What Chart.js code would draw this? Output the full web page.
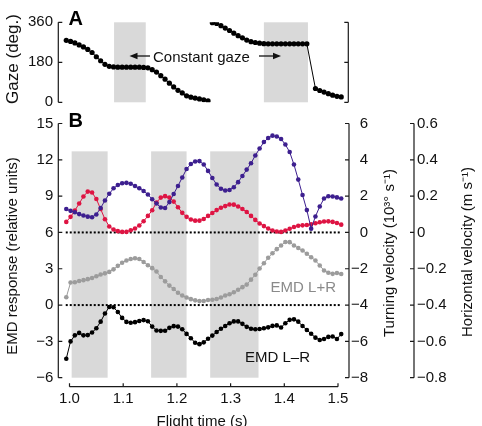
<!DOCTYPE html>
<html>
<head>
<meta charset="utf-8">
<script src="https://cdn.jsdelivr.net/npm/chart.js"></script>
<style>
  body { margin: 0; background: #fff; }
  #wrap { position: relative; width: 482px; height: 426px; }
  canvas { position: absolute; left: 0; top: 0; }
</style>
</head>
<body>
<div id="wrap">
  <canvas id="panelB" width="482" height="426"></canvas>
  <canvas id="panelA" width="482" height="426"></canvas>
</div>
<script>
// sample times (s), one dot every 8 ms
const flightTime = [0.994, 1.002, 1.010, 1.018, 1.026, 1.034, 1.042, 1.050, 1.058, 1.066,
  1.074, 1.082, 1.090, 1.098, 1.106, 1.114, 1.122, 1.130, 1.138, 1.146,
  1.154, 1.162, 1.170, 1.178, 1.186, 1.194, 1.202, 1.210, 1.218, 1.226,
  1.234, 1.242, 1.250, 1.258, 1.266, 1.274, 1.282, 1.290, 1.298, 1.306,
  1.314, 1.322, 1.330, 1.338, 1.346, 1.354, 1.362, 1.370, 1.378, 1.386,
  1.394, 1.402, 1.410, 1.418, 1.426, 1.434, 1.442, 1.450, 1.458, 1.466,
  1.474, 1.482, 1.490, 1.498, 1.506];

// panel A: gaze (deg), wraps from 0 to 360 after 1.258 s
const gaze = [279, 274, 267, 258, 249, 238, 224, 205, 187, 171,
  162, 159, 158, 158, 158, 158, 158, 158, 157, 155,
  147, 136, 120, 104, 86, 69, 54, 42, 29, 23,
  19, 15, 11, 6,
  358, 355, 345, 334, 323, 311, 300, 290, 280, 273,
  269, 266, 264, 263, 263, 263, 263, 263, 263, 263,
  263, 263, 263, null, 62, 53, 46, 39, 32, 27, 24];
const gazeWrapIndex = 34;

// panel B
const emdSum = [0.64, 1.86, 1.88, 1.99, 2.06, 2.14, 2.24, 2.38, 2.52, 2.62,
  2.74, 2.95, 3.24, 3.50, 3.68, 3.80, 3.87, 3.80, 3.56, 3.29,
  3.05, 2.77, 2.32, 1.96, 1.61, 1.33, 1.02, 0.79, 0.63, 0.49,
  0.39, 0.33, 0.34, 0.42, 0.44, 0.50, 0.62, 0.79, 0.90, 1.06,
  1.26, 1.48, 1.69, 2.10, 2.50, 3.02, 3.46, 3.91, 4.28, 4.62,
  4.92, 5.21, 5.20, 4.92, 4.71, 4.51, 4.24, 3.95, 3.68, 3.27,
  2.86, 2.67, 2.58, 2.65, 2.57];
const emdDiff = [-4.43, -3.0, -2.5, -2.3, -2.5, -2.48, -2.27, -1.92, -1.37, -0.7,
  -0.16, -0.18, -0.57, -1.06, -1.39, -1.46, -1.41, -1.31, -1.24, -1.34,
  -1.78, -2.10, -2.13, -2.12, -1.88, -1.74, -1.78, -2.00, -2.38, -2.74,
  -3.11, -3.23, -3.08, -2.78, -2.52, -2.23, -1.95, -1.73, -1.50, -1.35,
  -1.35, -1.55, -1.8, -1.95, -2.0, -1.98, -1.91, -1.84, -1.72, -1.68,
  -1.85, -1.50, -1.22, -1.18, -1.37, -1.73, -2.06, -2.37, -2.69, -2.89,
  -2.80, -2.63, -2.6, -2.8, -2.4];
// turning velocity, 10^3 deg/s
const turning = [0.58, 0.86, 1.21, 1.59, 1.98, 2.25, 2.20, 1.84, 1.29, 0.73,
  0.33, 0.16, 0.07, 0.03, 0.03, 0.12, 0.22, 0.38, 0.62, 0.91,
  1.22, 1.65, 1.92, 2.00, 1.92, 1.70, 1.39, 1.08, 0.86, 0.71,
  0.65, 0.65, 0.74, 0.91, 1.07, 1.23, 1.36, 1.45, 1.54, 1.53,
  1.43, 1.29, 1.13, 0.91, 0.69, 0.49, 0.35, 0.22, 0.11, 0.05,
  0.03, 0.11, 0.20, 0.30, 0.37, 0.39, 0.41, 0.45, 0.51, 0.56,
  0.60, 0.61, 0.58, 0.52, 0.43];
// horizontal velocity, m/s
const horizontal = [0.129, 0.119, 0.111, 0.101, 0.093, 0.087, 0.084, 0.099, 0.135, 0.176,
  0.213, 0.243, 0.261, 0.271, 0.273, 0.268, 0.256, 0.243, 0.228, 0.209,
  0.183, 0.159, 0.137, 0.135, 0.167, 0.212, 0.256, 0.303, 0.349, 0.377,
  0.391, 0.393, 0.374, 0.339, 0.300, 0.264, 0.241, 0.231, 0.234, 0.249,
  0.277, 0.311, 0.346, 0.381, 0.424, 0.462, 0.498, 0.520, 0.533, 0.528,
  0.515, 0.484, 0.443, 0.374, 0.291, 0.206, 0.123, 0.021, 0.088, 0.143,
  0.187, 0.199, 0.198, 0.193, 0.187];

const refLevels = [6, 0];
const refSpan = [0.993, 1.507];

const bandsA = [[1.083, 1.142], [1.362, 1.444]];
const bandsB = [[1.004, 1.071], [1.152, 1.218], [1.262, 1.352]];
const bandTopB = 12.7;

const timeTicks = [1.0, 1.1, 1.2, 1.3, 1.4, 1.5];
const gazeTicks = [0, 180, 360];
const emdTicks = [-6, -3, 0, 3, 6, 9, 12, 15];
const turnTicks = [-8, -6, -4, -2, 0, 2, 4, 6];
const horizTicks = [-0.8, -0.6, -0.4, -0.2, 0, 0.2, 0.4, 0.6];

// x range chosen so 1.0 and 1.5 sit inside the frame like the original
const xMin = 0.979143, xMax = 1.520484;

Chart.defaults.font.family = '"Liberation Sans", Arial, sans-serif';
Chart.defaults.font.size = 15;
Chart.defaults.color = '#111';
Chart.defaults.animation = false;
Chart.defaults.responsive = false;
Chart.defaults.plugins.legend.display = false;
Chart.defaults.plugins.tooltip.enabled = false;

const minus = s => String(s).replace('-', '\u2212');
const fmtInt = v => minus(v);
const fmtDec = v => v === 0 ? '0' : minus(v.toFixed(1));
const useTicks = list => scale => { scale.ticks = list.map(v => ({ value: v })); };
// fixed box width, and no extra label overhang padding (layout padding handles it)
const fixW = w => s => { s.width = w; s.paddingTop = 0; s.paddingBottom = 0; };

const pts = (vals, from, to) => flightTime.slice(from, to).map((t, i) => ({ x: t, y: vals[from + i] }));

function trace(vals, color, axis, r) {
  return {
    data: pts(vals, 0, vals.length), yAxisID: axis,
    borderColor: color, backgroundColor: color, borderWidth: 1,
    pointRadius: r, pointBorderWidth: 0, pointBackgroundColor: color, tension: 0
  };
}

const AXIS = '#1a1a1a';

function vAxis(ctx, scale, x, ticks, dir) {
  ctx.beginPath();
  ctx.moveTo(x, scale.getPixelForValue(ticks[ticks.length - 1]));
  ctx.lineTo(x, scale.getPixelForValue(ticks[0]));
  ticks.forEach(v => {
    const y = scale.getPixelForValue(v);
    ctx.moveTo(x, y);
    ctx.lineTo(x + dir * 4, y);
  });
  ctx.stroke();
}

function vText(ctx, txt, x, y) {
  ctx.save();
  ctx.translate(x, y);
  ctx.rotate(-Math.PI / 2);
  ctx.textAlign = 'center';
  ctx.textBaseline = 'middle';
  ctx.fillText(txt, 0, 0);
  ctx.restore();
}

function bands(chart, list, axis, top, bottom) {
  const { ctx, scales } = chart;
  const y0 = scales[axis].getPixelForValue(top);
  const y1 = scales[axis].getPixelForValue(bottom);
  ctx.save();
  ctx.fillStyle = '#d9d9d9';
  list.forEach(([a, b]) => {
    const x0 = scales.x.getPixelForValue(a);
    const x1 = scales.x.getPixelForValue(b);
    ctx.fillRect(x0, y0, x1 - x0, y1 - y0);
  });
  ctx.restore();
}

function arrow(ctx, x0, x1, y) {
  const d = Math.sign(x1 - x0);
  ctx.beginPath();
  ctx.moveTo(x0, y);
  ctx.lineTo(x1 - d * 6, y);
  ctx.stroke();
  ctx.beginPath();
  ctx.moveTo(x1, y);
  ctx.lineTo(x1 - d * 8, y - 3.2);
  ctx.lineTo(x1 - d * 8, y + 3.2);
  ctx.closePath();
  ctx.fill();
}

const hidden = { grid: { display: false, drawTicks: false }, border: { display: false } };

// ---------- panel B ----------
new Chart('panelB', {
  type: 'line',
  data: {
    datasets: [
      trace(horizontal, '#3d1f8f', 'yHoriz', 2.3),
      trace(turning, '#de1443', 'yTurn', 2.3),
      trace(emdDiff, '#000000', 'y', 2.3),
      trace(emdSum, '#9c9c9c', 'y', 2.3),
      ...refLevels.map(lv => ({
        data: refSpan.map(t => ({ x: t, y: lv })), yAxisID: 'y',
        borderColor: '#000', borderWidth: 2, borderDash: [2, 2], pointRadius: 0
      }))
    ]
  },
  options: {
    devicePixelRatio: 1,
    layout: { padding: { top: 123.5, left: 0, right: 0, bottom: 0 } },
    scales: {
      x: {
        type: 'linear', min: xMin, max: xMax, ...hidden,
        afterBuildTicks: useTicks(timeTicks),
        afterFit: s => { s.height = 48.3; },
        ticks: { padding: 12, maxRotation: 0, autoSkip: false, callback: v => v.toFixed(1) }
      },
      y: {
        position: 'left', min: -6, max: 15, ...hidden,
        afterBuildTicks: useTicks(emdTicks),
        afterFit: fixW(58.3),
        ticks: { padding: 5, autoSkip: false, callback: fmtInt }
      },
      yTurn: {
        position: 'right', min: -8, max: 6, ...hidden,
        afterBuildTicks: useTicks(turnTicks),
        afterFit: fixW(19),
        ticks: { crossAlign: 'far', autoSkip: false, callback: fmtInt }
      },
      yHoriz: {
        position: 'right', min: -0.8, max: 0.6, ...hidden,
        afterBuildTicks: useTicks(horizTicks),
        afterFit: fixW(114),
        ticks: { padding: 49, autoSkip: false, callback: fmtDec }
      }
    }
  },
  plugins: [{
    id: 'frameB',
    beforeDatasetsDraw(chart) {
      bands(chart, bandsB, 'y', bandTopB, -6);
    },
    afterDraw(chart) {
      const { ctx, scales, chartArea } = chart;
      ctx.save();
      ctx.strokeStyle = AXIS;
      ctx.fillStyle = AXIS;
      ctx.lineWidth = 1.2;
      vAxis(ctx, scales.y, chartArea.left, emdTicks, 1);
      vAxis(ctx, scales.yTurn, chartArea.right, turnTicks, -1);
      vAxis(ctx, scales.yHoriz, scales.yHoriz.left + 46, horizTicks, -1);
      const yb = chartArea.bottom + 9;
      ctx.beginPath();
      ctx.moveTo(scales.x.getPixelForValue(timeTicks[0]), yb);
      ctx.lineTo(scales.x.getPixelForValue(timeTicks[timeTicks.length - 1]), yb);
      timeTicks.forEach(v => {
        const x = scales.x.getPixelForValue(v);
        ctx.moveTo(x, yb);
        ctx.lineTo(x, yb - 3.5);
      });
      ctx.stroke();

      ctx.fillStyle = '#111';
      ctx.font = '15px "Liberation Sans", Arial, sans-serif';
      vText(ctx, 'EMD response (relative units)', 13, 256);
      vText(ctx, 'Turning velocity (10\u00b3\u00b0 s\u207b\u00b9)', 390, 253);
      vText(ctx, 'Horizontal velocity (m s\u207b\u00b9)', 468, 252);
      ctx.textAlign = 'center';
      ctx.textBaseline = 'alphabetic';
      ctx.fillText('Flight time (s)', 202, 426);
      ctx.textBaseline = 'middle';
      ctx.fillText('EMD L\u2013R', 277.5, 357.7);
      ctx.fillStyle = '#8a8a8a';
      ctx.fillText('EMD L+R', 303.3, 288);
      ctx.fillStyle = '#000';
      ctx.font = 'bold 20px "Liberation Sans", Arial, sans-serif';
      ctx.fillText('B', 75.8, 121);
      ctx.restore();
    }
  }]
});

// ---------- panel A ----------
new Chart('panelA', {
  type: 'line',
  data: {
    datasets: [
      { ...trace(gaze, '#000000', 'y', 2.6), data: pts(gaze, 0, gazeWrapIndex) },
      { ...trace(gaze, '#000000', 'y', 2.6), data: pts(gaze, gazeWrapIndex, gaze.length), spanGaps: true }
    ]
  },
  options: {
    devicePixelRatio: 1,
    layout: { padding: { top: 22.3, left: 0, right: 0, bottom: 323.7 } },
    scales: {
      x: { type: 'linear', min: xMin, max: xMax, display: false },
      y: {
        position: 'left', min: 0, max: 360, ...hidden,
        afterBuildTicks: useTicks(gazeTicks),
        afterFit: fixW(58.3),
        ticks: { padding: 5.3, autoSkip: false, callback: fmtInt }
      },
      yR: {
        position: 'right', min: 0, max: 360, ...hidden,
        afterFit: fixW(133),
        ticks: { display: false }
      }
    }
  },
  plugins: [{
    id: 'frameA',
    beforeDatasetsDraw(chart) {
      bands(chart, bandsA, 'y', 360, 0);
    },
    afterDraw(chart) {
      const { ctx, scales, chartArea } = chart;
      ctx.save();
      ctx.strokeStyle = AXIS;
      ctx.fillStyle = AXIS;
      ctx.lineWidth = 1.2;
      vAxis(ctx, scales.y, chartArea.left, gazeTicks, 1);
      vAxis(ctx, scales.yR, chartArea.right - 0.7, gazeTicks, -1);

      ctx.fillStyle = '#111';
      ctx.strokeStyle = '#111';
      ctx.font = '17px "Liberation Sans", Arial, sans-serif';
      vText(ctx, 'Gaze (deg.)', 13.7, 59);
      ctx.font = '15px "Liberation Sans", Arial, sans-serif';
      ctx.textAlign = 'left';
      ctx.textBaseline = 'alphabetic';
      ctx.fillText('Constant gaze', 153, 61.7);
      ctx.lineWidth = 1.3;
      arrow(ctx, 150, 129.5, 56);
      arrow(ctx, 259, 281, 56);
      ctx.fillStyle = '#000';
      ctx.textAlign = 'center';
      ctx.textBaseline = 'middle';
      ctx.font = 'bold 20px "Liberation Sans", Arial, sans-serif';
      ctx.fillText('A', 75.8, 19.7);
      ctx.restore();
    }
  }]
});
</script>
</body>
</html>
